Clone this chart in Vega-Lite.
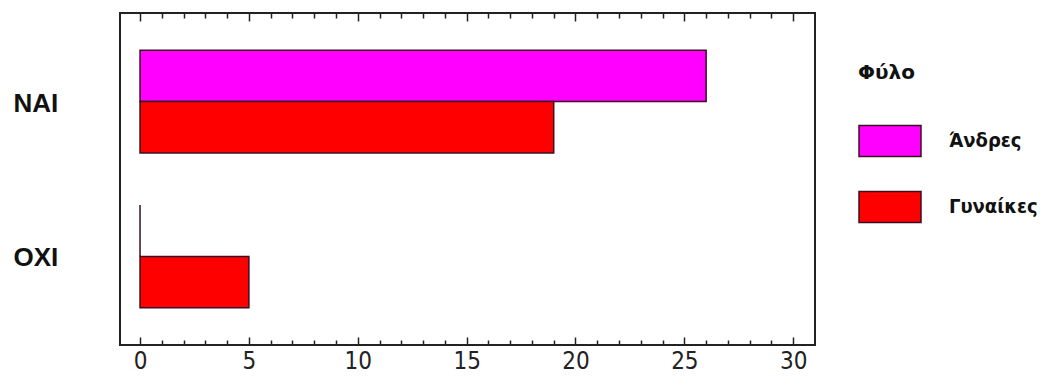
{
  "$schema": "https://vega.github.io/schema/vega-lite/v6.json",
  "width": 695,
  "height": 332,
  "autosize": {"type": "none"},
  "padding": {"left": 120, "top": 13, "right": 243, "bottom": 40},
  "background": "white",
  "config": {
    "view": {"stroke": "#222", "strokeWidth": 2},
    "font": "DejaVu Sans"
  },
  "data": {
    "values": [
      {"answer": "NAI", "sex": "Άνδρες", "count": 26},
      {"answer": "NAI", "sex": "Γυναίκες", "count": 19},
      {"answer": "OXI", "sex": "Άνδρες", "count": 0},
      {"answer": "OXI", "sex": "Γυναίκες", "count": 5}
    ]
  },
  "layer": [
    {
      "mark": {"type": "bar", "stroke": "#3a1020", "strokeWidth": 1.5},
      "encoding": {
        "y": {
          "field": "answer",
          "type": "nominal",
          "sort": ["NAI", "OXI"],
          "scale": {"paddingInner": 0.335, "paddingOuter": 0.24},
          "axis": {
            "title": null,
            "ticks": false,
            "domain": false,
            "labelAlign": "left",
            "labelPadding": 107,
            "labelFont": "Liberation Sans",
            "labelFontWeight": "bold",
            "labelFontSize": 26,
            "labelOffset": 2,
            "labelColor": "#111"
          }
        },
        "yOffset": {"field": "sex", "type": "nominal", "sort": ["Άνδρες", "Γυναίκες"], "scale": {"paddingInner": 0, "paddingOuter": 0}},
        "x": {
          "field": "count",
          "type": "quantitative",
          "scale": {"domain": [-0.92, 31], "nice": false, "zero": false},
          "axis": {
            "title": null,
            "orient": "bottom",
            "grid": false,
            "domain": false,
            "values": [0,1,2,3,4,5,6,7,8,9,10,11,12,13,14,15,16,17,18,19,20,21,22,23,24,25,26,27,28,29,30],
            "labelExpr": "datum.value % 5 === 0 ? datum.value : ''",
            "tickSize": {"condition": {"test": "datum.value % 5 === 0", "value": -8}, "value": -5},
            "tickColor": "#222",
            "tickWidth": 1.5,
            "labelPadding": 12,
            "labelFont": "DejaVu Sans Condensed",
            "labelFontSize": 24,
            "labelColor": "#222"
          }
        },
        "color": {
          "field": "sex",
          "type": "nominal",
          "sort": ["Άνδρες", "Γυναίκες"],
          "scale": {"domain": ["Άνδρες", "Γυναίκες"], "range": ["#ff00ff", "#ff0000"]},
          "legend": {
            "title": "Φύλο",
            "orient": "none",
            "legendX": 738,
            "legendY": 50,
            "titleFont": "DejaVu Sans",
            "titleFontWeight": "bold",
            "titleFontSize": 20,
            "titleColor": "#111",
            "titlePadding": 26,
            "titleAnchor": "start",
            "labelFont": "DejaVu Sans Condensed",
            "labelFontWeight": "bold",
            "labelFontSize": 20,
            "labelColor": "#111",
            "labelOffset": 27,
            "symbolType": "M-1,-0.5H1V0.5H-1Z",
            "symbolSize": 3844,
            "symbolStrokeColor": "#3a1020",
            "symbolStrokeWidth": 1.5,
            "symbolOpacity": 1,
            "rowPadding": 15
          }
        }
      }
    },
    {
      "mark": {"type": "bar", "opacity": 0},
      "encoding": {
        "x": {
          "field": "count",
          "type": "quantitative",
          "axis": {
            "orient": "top",
            "title": null,
            "grid": false,
            "domain": false,
            "labels": false,
            "values": [0,1,2,3,4,5,6,7,8,9,10,11,12,13,14,15,16,17,18,19,20,21,22,23,24,25,26,27,28,29,30],
            "tickSize": {"condition": {"test": "datum.value % 5 === 0", "value": -8}, "value": -5},
            "tickColor": "#222",
            "tickWidth": 1.5
          }
        }
      }
    }
  ],
  "resolve": {"axis": {"x": "independent"}}
}
